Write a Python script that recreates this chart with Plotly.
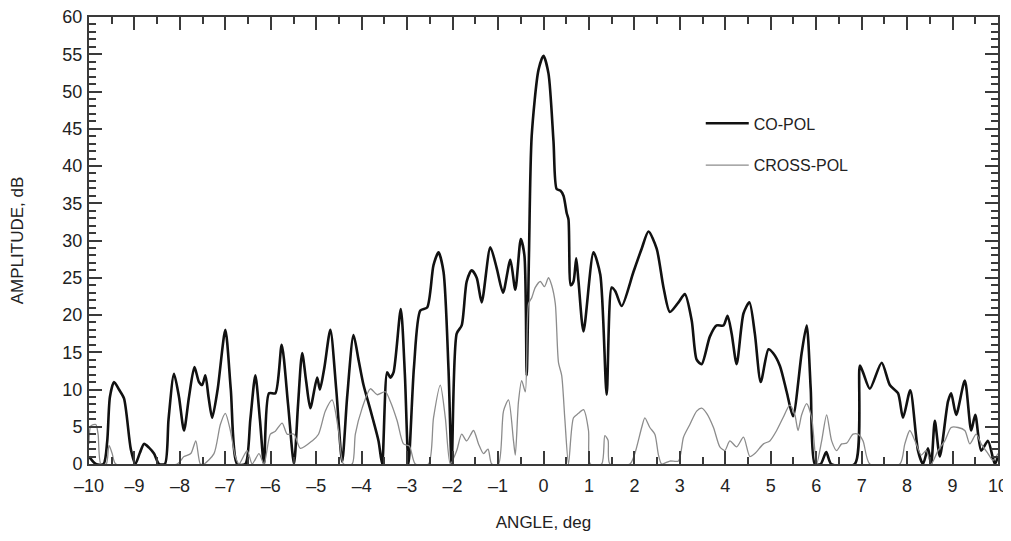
import plotly.graph_objects as go

# co-pol trace (angle in deg, amplitude in dB)
co_angle = [-10.00, -9.85, -9.68, -9.60, -9.54, -9.45, -9.34, -9.23, -9.08, -8.98,
            -8.88, -8.79, -8.68, -8.57, -8.46, -8.33, -8.25, -8.13, -8.02, -7.91,
            -7.80, -7.68, -7.58, -7.51, -7.44, -7.37, -7.29, -7.17, -7.00, -6.88,
            -6.74, -6.56, -6.45, -6.34, -6.24, -6.15, -6.04, -5.90, -5.76, -5.62,
            -5.49, -5.40, -5.31, -5.22, -5.13, -4.98, -4.92, -4.82, -4.69, -4.56,
            -4.43, -4.32, -4.18, -4.07, -3.96, -3.81, -3.63, -3.55, -3.44, -3.37,
            -3.30, -3.14, -3.05, -2.97, -2.85, -2.71, -2.56, -2.42, -2.31, -2.20,
            -2.09, -2.02, -1.91, -1.80, -1.69, -1.58, -1.47, -1.36, -1.17, -1.03,
            -0.89, -0.73, -0.62, -0.50, -0.42, -0.37, -0.32, -0.26, -0.11, 0.00,
            0.11, 0.22, 0.29, 0.37, 0.44, 0.51, 0.55, 0.60, 0.66, 0.72,
            0.77, 0.88, 1.10, 1.25, 1.39, 1.50, 1.58, 1.72, 1.98, 2.16,
            2.31, 2.49, 2.64, 2.78, 2.97, 3.11, 3.26, 3.37, 3.48, 3.66,
            3.81, 3.96, 4.05, 4.14, 4.25, 4.40, 4.53, 4.65, 4.78, 4.95,
            5.05, 5.20, 5.35, 5.49, 5.68, 5.79, 5.88, 5.97, 6.10, 6.22,
            6.33, 6.85, 6.96, 7.03, 7.18, 7.44, 7.62, 7.80, 7.91, 8.07,
            8.24, 8.35, 8.46, 8.53, 8.61, 8.72, 8.90, 8.97, 9.08, 9.27,
            9.41, 9.50, 9.63, 9.78, 9.93, 10.00]
co_db = [1.0, 0.0, 0.0, 3.0, 9.0, 11.0, 10.0, 8.8, 2.0, 0.0,
         1.5, 2.7, 2.2, 1.4, 0.0, 0.0, 6.0, 12.1, 9.0, 4.5,
         9.0, 13.0, 11.0, 10.6, 11.9, 9.0, 6.2, 10.0, 18.0, 10.0,
         0.0, 0.0, 6.0, 11.9, 6.0, 0.0, 9.5, 9.5, 16.0, 8.0,
         0.0, 8.0, 14.9, 11.0, 7.5, 11.6, 10.0, 13.0, 18.0, 10.0,
         0.3, 9.0, 17.3, 14.0, 10.6, 7.3, 3.1, 0.0, 12.3, 11.6,
         12.3, 20.8, 12.0, 0.0, 13.0, 20.6, 21.0, 26.7, 28.4, 25.8,
         12.7, 0.0, 17.5, 18.6, 24.5, 26.0, 25.0, 21.7, 29.1, 26.3,
         23.0, 27.4, 23.4, 30.2, 28.0, 11.9, 28.0, 44.0, 52.9, 54.8,
         52.4, 43.3, 36.9, 36.7, 36.0, 33.7, 32.8, 24.0, 24.5, 27.6,
         24.5, 17.8, 28.4, 25.4, 9.3, 23.7, 23.2, 21.2, 25.8, 28.9,
         31.2, 28.9, 23.7, 20.4, 21.7, 22.8, 19.3, 14.0, 13.4, 17.1,
         18.6, 18.6, 19.9, 17.5, 13.4, 20.2, 21.7, 17.5, 11.0, 15.4,
         14.9, 13.2, 9.7, 6.4, 14.9, 18.6, 10.0, 0.0, 0.0, 1.6,
         0.0, 0.0, 13.2, 12.3, 10.1, 13.6, 10.6, 9.5, 6.2, 9.9,
         1.8, 0.0, 2.1, 0.0, 5.8, 1.0, 8.4, 9.5, 6.6, 11.2,
         4.5, 6.6, 1.8, 3.1, 0.0, 1.0]

# cross-pol trace
cross_angle = [-10.00, -9.96, -9.85, -9.80, -9.74, -9.62, -9.56, -9.49, -9.41, -8.06,
               -7.91, -7.76, -7.65, -7.55, -7.47, -7.25, -7.11, -7.00, -6.89, -6.78,
               -6.70, -6.52, -6.41, -6.26, -6.15, -6.01, -5.90, -5.75, -5.64, -5.49,
               -5.35, -5.09, -4.95, -4.80, -4.65, -4.51, -4.40, -4.21, -4.14, -3.99,
               -3.81, -3.66, -3.48, -3.37, -3.22, -3.08, -2.95, -2.82, -2.53, -2.42,
               -2.27, -2.16, -2.05, -1.91, -1.80, -1.69, -1.54, -1.43, -1.32, -1.22,
               -1.14, -0.99, -0.88, -0.77, -0.66, -0.62, -0.55, -0.48, -0.40, -0.33,
               -0.26, -0.18, -0.07, 0.02, 0.11, 0.18, 0.26, 0.33, 0.40, 0.47,
               0.55, 0.66, 0.77, 0.88, 0.99, 1.03, 1.28, 1.35, 1.42, 1.46,
               1.90, 2.01, 2.16, 2.23, 2.34, 2.45, 2.53, 2.60, 2.78, 2.97,
               3.08, 3.22, 3.37, 3.48, 3.59, 3.74, 3.88, 3.99, 4.10, 4.25,
               4.40, 4.54, 4.65, 4.84, 4.98, 5.13, 5.27, 5.42, 5.53, 5.60,
               5.68, 5.79, 5.90, 6.01, 6.12, 6.23, 6.34, 6.45, 6.56, 6.67,
               6.81, 6.92, 7.03, 7.18, 7.84, 7.95, 8.06, 8.20, 8.31, 8.42,
               8.53, 8.68, 8.83, 8.97, 9.12, 9.27, 9.38, 9.52, 9.63, 9.78,
               9.89, 10.00]
cross_db = [2.7, 5.1, 5.3, 4.0, 0.0, 0.0, 2.5, 1.4, 0.0, 0.0,
            1.0, 1.4, 3.1, 0.0, 0.0, 1.4, 5.3, 6.8, 4.5, 1.0,
            0.0, 1.8, 0.0, 1.4, 0.0, 4.0, 4.4, 5.5, 4.0, 4.0,
            2.1, 3.1, 4.0, 7.1, 8.6, 4.5, 0.0, 0.0, 4.0, 7.5,
            10.1, 9.3, 9.7, 8.4, 5.8, 2.7, 2.4, 0.0, 0.0, 6.2,
            10.6, 6.2, 0.0, 1.8, 4.0, 3.1, 4.5, 2.7, 1.4, 2.0,
            0.0, 0.0, 7.1, 8.6, 3.1, 1.2, 8.4, 11.2, 9.7, 21.5,
            22.3, 23.7, 24.5, 23.8, 25.0, 24.0, 21.5, 13.6, 11.9, 6.0,
            0.0, 6.2, 6.8, 7.3, 4.5, 0.0, 0.0, 3.8, 3.2, 0.0,
            0.0, 1.4, 4.9, 6.2, 4.9, 4.0, 1.2, 0.0, 0.4, 0.4,
            3.6, 5.3, 7.1, 7.5, 6.8, 4.9, 2.3, 1.8, 3.1, 2.3,
            3.6, 1.0, 1.4, 2.7, 3.1, 4.5, 6.2, 7.9, 6.6, 4.5,
            6.6, 8.1, 6.2, 0.0, 3.1, 6.6, 3.1, 1.8, 2.7, 2.8,
            4.0, 4.0, 3.1, 0.0, 0.0, 2.7, 4.5, 2.7, 1.2, 1.8,
            0.0, 1.8, 3.1, 4.9, 4.9, 4.5, 2.7, 4.0, 2.7, 1.4,
            0.5, 1.4]

x_ticks = list(range(-10, 11))
x_labels = [("\u2013" + str(-v)) if v < 0 else str(v) for v in x_ticks]

font_name = "Liberation Sans, Arial, sans-serif"
axis_col = "#3a3a3a"

fig = go.Figure()
fig.add_trace(go.Scatter(x=co_angle, y=co_db, mode="lines", name="CO-POL",
                         legendgroup="co",
                         line=dict(color="#111111", width=2.6, shape="spline", smoothing=0.7)))
fig.add_trace(go.Scatter(x=cross_angle, y=cross_db, mode="lines", name="CROSS-POL",
                         legendgroup="cross",
                         line=dict(color="#8c8c8c", width=1.3, shape="spline", smoothing=0.7)))

# page body adds an 8px offset, so the figure is 8px smaller than the window
fig.update_layout(
    width=1003, height=533,
    margin=dict(l=81, r=13, t=9, b=77),
    plot_bgcolor="white", paper_bgcolor="white",
    font=dict(family=font_name, size=18, color="#222222"),
    showlegend=True,
    legend=dict(x=0.673, y=0.800, xanchor="left", yanchor="top",
                traceorder="grouped", tracegroupgap=18, itemwidth=43,
                font=dict(size=16), bgcolor="rgba(0,0,0,0)"),
)

fig.update_xaxes(
    range=[-10, 10], tickmode="array", tickvals=x_ticks, ticktext=x_labels,
    ticks="inside", ticklen=13, tickwidth=1.5, tickcolor=axis_col,
    minor=dict(tickmode="linear", tick0=0, dtick=0.5, ticks="inside",
               ticklen=7, tickwidth=1.5, tickcolor=axis_col),
    showline=True, linecolor=axis_col, linewidth=2, mirror="ticks",
    showgrid=False, zeroline=False, automargin=False,
    ticklabelstandoff=4, ticklabeloverflow="allow",
    title=dict(text="ANGLE, deg", standoff=22, font=dict(size=17)),
)
fig.update_yaxes(
    range=[0, 60], dtick=5, tick0=0,
    ticks="inside", ticklen=13, tickwidth=1.5, tickcolor=axis_col,
    minor=dict(tickmode="linear", tick0=0, dtick=1, ticks="inside",
               ticklen=7, tickwidth=1.5, tickcolor=axis_col),
    showline=True, linecolor=axis_col, linewidth=2, mirror="ticks",
    showgrid=False, zeroline=False, automargin=False,
    ticklabelstandoff=1, ticklabeloverflow="allow",
    title=dict(text="AMPLITUDE, dB", standoff=40, font=dict(size=17)),
)

fig.write_html("out.html")
